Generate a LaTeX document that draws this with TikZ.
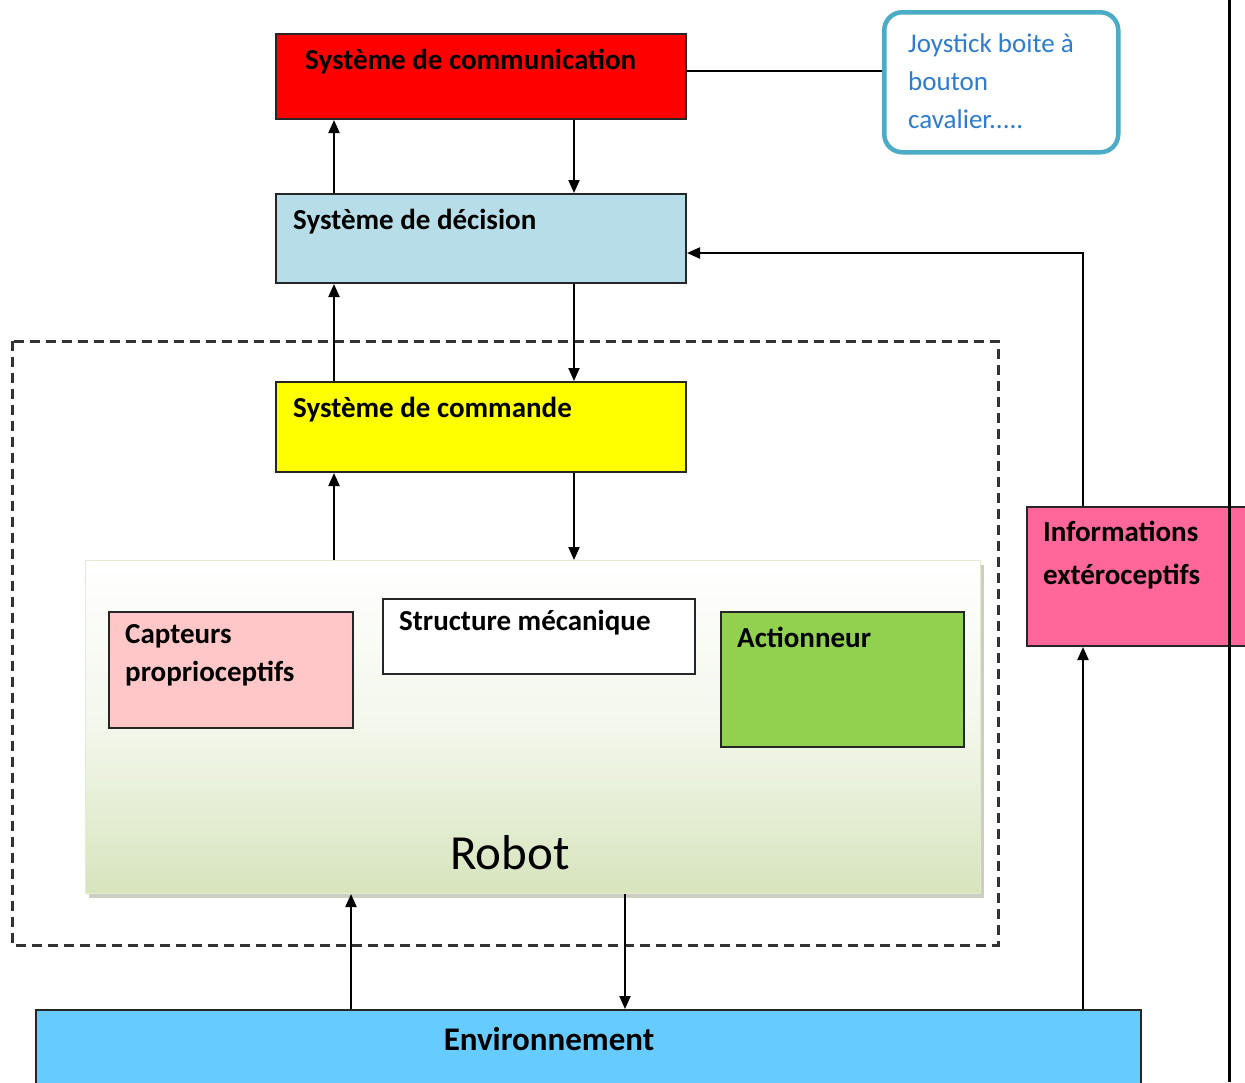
\documentclass[tikz,border=0pt]{standalone}
\usepackage{fontspec}
\setmainfont{Carlito}
\usetikzlibrary{arrows.meta,calc,shadows}

\definecolor{decblue}{HTML}{B7DDE8}
\definecolor{cmdyellow}{HTML}{FFFF00}
\definecolor{capink}{HTML}{FFC7C7}
\definecolor{actgreen}{HTML}{92D050}
\definecolor{infopink}{HTML}{FF6699}
\definecolor{envblue}{HTML}{66CCFF}
\definecolor{robgreen}{HTML}{D7E4BD}
\definecolor{joyborder}{HTML}{4BACC6}
\definecolor{joytext}{HTML}{2E7CD0}

\tikzset{
    box/.style={draw=black!85, line width=2pt, rectangle, anchor=north west, inner sep=0pt},
    lbl/.style={anchor=west, font=\fontsize{29}{38}\selectfont\bfseries, align=left, inner sep=0pt},
    flow/.style={line width=2pt, -{Triangle[length=13pt,width=11pt]}},
}

\begin{document}
\begin{tikzpicture}[x=1pt, y=-1pt]
    \clip (0,0) rectangle (1245,1082);
    \fill[white] (0,0) rectangle (1245,1082);

    % dashed frame round the robot
    \draw[black!80, line width=3pt, dash pattern=on 10pt off 6pt]
        (12,341) rectangle (998,945);

    % upper blocks
    \node[box, fill=red, minimum width=410pt, minimum height=85pt] (comm) at (275,33) {};
    \node[lbl] (commtxt) at ($(comm.north west)+(30,29)$) {Système de communication};

    \node[box, fill=decblue, minimum width=410pt, minimum height=89pt] (dec) at (275,193) {};
    \node[lbl] (dectxt) at ($(dec.north west)+(18,29)$) {Système de décision};

    \node[box, fill=cmdyellow, minimum width=410pt, minimum height=90pt] (cmd) at (275,381) {};
    \node[lbl] (cmdtxt) at ($(cmd.north west)+(18,29)$) {Système de commande};

    % joystick
    \node[draw=joyborder, line width=4.5pt, rounded corners=18pt, anchor=north west,
        minimum width=234pt, minimum height=140pt] (joy) at (882,10) {};
    \node[lbl, anchor=north west, font=\fontsize{27}{38}\selectfont, text=joytext]
        (joytxt) at ($(joy.north west)+(26,24)$) {Joystick boite à\\bouton\\cavalier.....};

    % robot
    \node[anchor=north west, minimum width=895pt, minimum height=333pt, inner sep=0pt,
        draw=robgreen!70!white, line width=1pt,
        top color=white, bottom color=robgreen, middle color=robgreen!30,
        drop shadow={shadow xshift=3pt, shadow yshift=-4pt, fill=robgreen!70!black, opacity=0.5}]
        (robot) at (85,560) {};
    \node[font=\fontsize{49}{52}\selectfont, inner sep=0pt] (robtxt) at (510,853) {Robot};

    \node[box, fill=capink, minimum width=244pt, minimum height=116pt] (capt) at (108,611) {};
    \node[lbl] (capttxt) at ($(capt.north west)+(17,44)$) {Capteurs\\proprioceptifs};

    \node[box, fill=white, minimum width=312pt, minimum height=75pt] (struct) at (382,598) {};
    \node[lbl] (structtxt) at ($(struct.north west)+(17,25)$) {Structure mécanique};

    \node[box, fill=actgreen, minimum width=243pt, minimum height=135pt] (act) at (720,611) {};
    \node[lbl] (acttxt) at ($(act.north west)+(17,26)$) {Actionneur};

    % right side
    \node[box, fill=infopink, minimum width=230pt, minimum height=139pt] (info) at (1026,506) {};
    \node[lbl, font=\fontsize{29}{43}\selectfont\bfseries] (infotxt) at ($(info.north west)+(17,49)$)
        {Informations\\extéroceptifs};

    \node[box, fill=envblue, minimum width=1105pt, minimum height=90pt] (env) at (35,1009) {};
    \node[font=\fontsize{33}{36}\selectfont\bfseries, inner sep=0pt] (envtxt) at (549,1039) {Environnement};

    % separator on the right
    \draw[line width=3pt] (1229,0) -- (1229,1082);

    % connections
    \draw[line width=2pt] (comm.east |- 0,71) -- (joy.west |- 0,71);
    \draw[flow] (dec.north -| 334,0) -- (comm.south -| 334,0);
    \draw[flow] (comm.south -| 574,0) -- (dec.north -| 574,0);
    \draw[flow] (cmd.north -| 334,0) -- (dec.south -| 334,0);
    \draw[flow] (dec.south -| 574,0) -- (cmd.north -| 574,0);
    \draw[flow] (robot.north -| 334,0) -- (cmd.south -| 334,0);
    \draw[flow] (cmd.south -| 574,0) -- (robot.north -| 574,0);
    \draw[flow] (env.north -| 351,0) -- (robot.south -| 351,0);
    \draw[flow] (robot.south -| 625,0) -- (env.north -| 625,0);
    \draw[flow] (env.north -| 1083,0) -- (info.south -| 1083,0);
    \draw[flow] (info.north -| 1083,0) |- (dec.east |- 0,253);
\end{tikzpicture}
\end{document}
